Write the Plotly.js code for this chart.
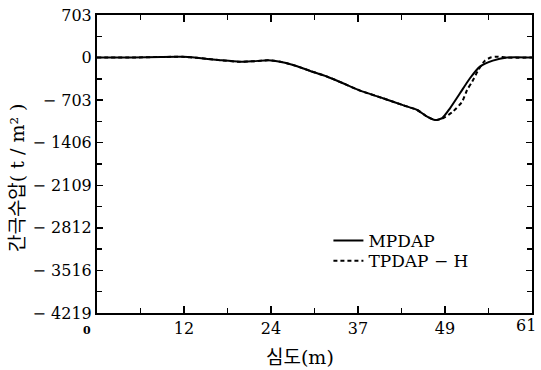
<!DOCTYPE html>
<html>
<head>
<meta charset="utf-8">
<script src="https://cdn.plot.ly/plotly-3.0.1.min.js"></script>
<style>html,body{margin:0;padding:0;background:#fff;}#chart{width:541px;height:370px;}</style>
</head>
<body>
<div id="chart"></div>
<script>
// depth (m)
const depthMP = [0, 5, 9, 12, 14, 17, 20, 22, 24, 25.7, 27.5, 29.9, 32.3, 34.5, 36.9, 40.1, 43, 44.9, 46.3, 47.4, 48.4, 49.5, 50.9, 52.3, 53.7, 55.5, 57.5, 61];
const pressMP = [0, 0, 10, 12, -5, -40, -70, -60, -45, -68, -122, -221, -316, -425, -547, -672, -790, -866, -976, -1031, -1000, -838, -590, -342, -150, -51, 0, 0];
const depthTP = [0, 5, 9, 12, 14, 17, 20, 22, 24, 25.7, 27.5, 29.9, 32.3, 34.5, 36.9, 40.1, 43, 44.9, 46.3, 47.4, 48.4, 49.9, 51.2, 51.9, 52.6, 53.5, 54.4, 55.3, 56.1, 57.5, 61];
const pressTP = [0, 0, 10, 12, -5, -40, -70, -60, -45, -68, -122, -221, -316, -425, -547, -672, -790, -866, -976, -1031, -1010, -894, -729, -535, -400, -200, -51, 5, 15, 0, 0];
const xTickVals = [0, 12.2, 24.4, 36.6, 48.8, 61];
const xTickText = ['<b style="font-size:11px">0</b>&nbsp;&nbsp;&nbsp;&nbsp;', '12', '24', '37', '49', '61'];
const yTickVals = [703, 0, -703, -1406, -2109, -2812, -3516, -4219];
const yTickText = ['703', '0', '− 703', '− 1406', '− 2109', '− 2812', '− 3516', '− 4219'];
const seriesNames = ['MPDAP', 'TPDAP − H'];
const xTitle = '심도(m)';
const yTitle = '간극수압( t / m² )';

const serif = '"DejaVu Serif", "Liberation Serif", serif';
const kor = '"DejaVu Serif", "Noto Sans CJK KR", serif';
const lastIdx = xTickVals.length - 1;
const traces = [
  {x: depthMP, y: pressMP, name: seriesNames[0], mode: 'lines', legend: 'legend',
   line: {color: '#000', width: 2, shape: 'spline', smoothing: 0.6}},
  {x: depthTP, y: pressTP, name: seriesNames[1], mode: 'lines', legend: 'legend2',
   line: {color: '#000', width: 2, dash: '4px,3px', shape: 'spline', smoothing: 0.6}}
];
const legFont = {family: serif, size: 17, color: '#000'};
const layout = {
  width: 541, height: 370,
  margin: {l: 97, r: 9, t: 15, b: 57},
  paper_bgcolor: '#fff', plot_bgcolor: '#fff',
  font: {family: serif, color: '#000', size: 16},
  showlegend: true,
  legend: {x: 0.532, y: 0.242, xanchor: 'left', yanchor: 'middle', bgcolor: 'rgba(0,0,0,0)',
           font: legFont, itemwidth: 30},
  legend2: {x: 0.532, y: 0.174, xanchor: 'left', yanchor: 'middle', bgcolor: 'rgba(0,0,0,0)',
           font: legFont, itemwidth: 30},
  xaxis: {
    range: [0, 61], tickvals: xTickVals,
    ticktext: xTickText.map((t, i) => i === lastIdx ? '' : t),
    ticks: 'inside', ticklen: 7, tickwidth: 1.5, tickcolor: '#000',
    minor: {dtick: 6.1, tick0: 0, ticks: 'inside', ticklen: 5, tickwidth: 1.5, tickcolor: '#000'},
    showline: true, linewidth: 2, linecolor: '#000', mirror: 'ticks',
    showgrid: false, zeroline: false,
    tickfont: {family: serif, size: 16}
  },
  yaxis: {
    range: [-4219, 703], tickvals: yTickVals, ticktext: yTickText,
    ticks: 'inside', ticklen: 6, tickwidth: 1.5, tickcolor: '#000',
    minor: {dtick: 351.5, tick0: 0, ticks: 'inside', ticklen: 5, tickwidth: 1.5, tickcolor: '#000'},
    showline: true, linewidth: 2, linecolor: '#000', mirror: 'ticks',
    showgrid: false, zeroline: false,
    tickfont: {family: serif, size: 16}
  },
  annotations: [
    {text: xTickText[lastIdx], xref: 'x', yref: 'paper', x: xTickVals[lastIdx], y: 0, xanchor: 'right', yanchor: 'top',
     xshift: 6, yshift: -1, showarrow: false, font: {family: serif, size: 16, color: '#000'}},
    {text: xTitle, xref: 'paper', yref: 'paper', x: 0.467, y: -0.148, xanchor: 'center', yanchor: 'middle',
     showarrow: false, font: {family: kor, size: 19, color: '#000'}},
    {text: yTitle, xref: 'paper', yref: 'paper', x: -0.184, y: 0.456, xanchor: 'center', yanchor: 'middle',
     textangle: -90, showarrow: false, font: {family: kor, size: 19, color: '#000'}}
  ]
};
Plotly.newPlot('chart', traces, layout, {displayModeBar: false, staticPlot: true});
</script>
</body>
</html>
